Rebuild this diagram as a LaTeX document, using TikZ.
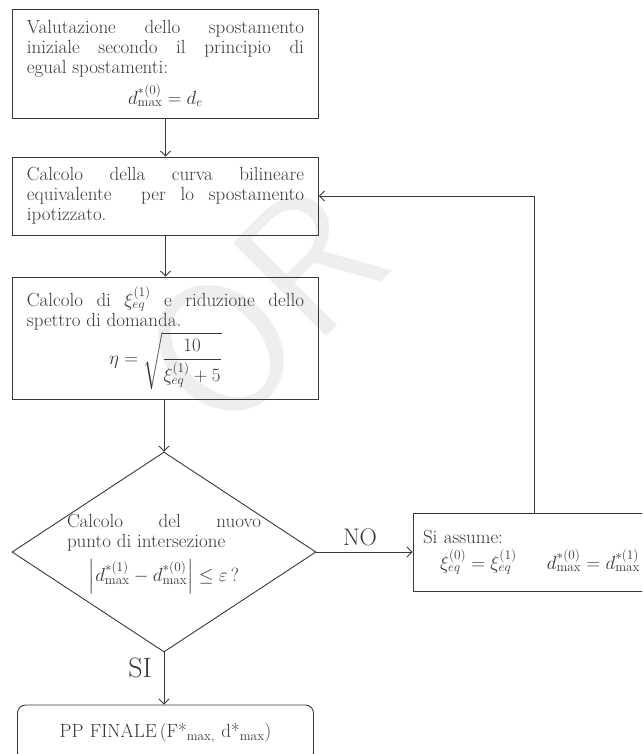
\RequirePackage{fix-cm}
\documentclass[tikz,border=0pt]{standalone}
\usepackage{amsmath,amssymb}
\usepackage{fontspec}
\usetikzlibrary{shapes.geometric,arrows.meta}
\hyphenpenalty=10000
\exhyphenpenalty=10000
\tolerance=9999
\emergencystretch=20pt
\definecolor{ink}{gray}{0.22}

\begin{document}
\begin{tikzpicture}[x=1pt,y=-1pt,
  >={Straight Barb[length=5pt,width=10pt]},
  blk/.style={draw=ink,line width=0.9pt,text=ink,inner xsep=14.5pt,inner ysep=4pt,
    text width=277pt,align=justify,minimum height=#1,font=\fontsize{19}{20}\selectfont},
  blk/.default=78pt,
  dia/.style={draw=ink,line width=0.9pt,shape=diamond,inner sep=0pt,
    minimum width=304pt,minimum height=200pt},
  txt/.style={text=ink,inner sep=0pt,align=justify,font=\fontsize{19}{20}\selectfont},
  lbl/.style={text=ink,inner sep=0pt,font=\fontsize{#1}{#1}\selectfont},
  arr/.style={->,draw=ink,line width=0.9pt}]
\clip (0,0) rectangle (642,754);
\node[rotate=45,text=gray!13,font=\sffamily\fontsize{190}{190}\selectfont] (wm) at (262,308) {OR};

\node[blk=109pt] (val) at (165.5,63.5) {Valutazione dello spostamento iniziale secondo il principio di\linebreak egual spostamenti:\par\vspace{6pt}\centerline{$d^{*(0)}_{\mathrm{max}}=d_e$}};
\node[blk=78pt] (curva) at (165.5,196) {Calcolo della curva bilineare equivalente\ \ per lo spostamento ipotizzato.};
\node[blk=122pt] (xi) at (165.5,338) {Calcolo di $\xi^{(1)}_{eq}$ e riduzione dello\linebreak spettro di domanda.\par\vspace{1pt}\centerline{$\displaystyle\eta=\sqrt{\frac{10}{\xi^{(1)}_{eq}+5}}$}};
\node[dia] (dec) at (164,552) {};
\node[txt,text width=194pt] (dectxt) at ([yshift=-2pt]dec.center) {Calcolo del nuovo\linebreak punto di intersezione\par\vspace{8pt}\centerline{$\left|d^{*(1)}_{\mathrm{max}}-d^{*(0)}_{\mathrm{max}}\right|\le\varepsilon\,?$}};
\node[blk=78pt,text width=217pt,inner xsep=10pt,align=left] (ass) at (531.5,552) {Si assume:\par\vspace{5pt}\hspace*{17pt}$\xi^{(0)}_{eq}=\xi^{(1)}_{eq}$\hfill$d^{*(0)}_{\mathrm{max}}=d^{*(1)}_{\mathrm{max}}$};
\node[blk=56pt,text width=267pt,rounded corners=8pt,align=center] (fin) at (165.5,733) {PP FINALE\,(F*\textsubscript{max,} d*\textsubscript{max})};

\node[lbl=24] (no) at (360,537) {NO};
\node[lbl=28] (si) at (140,668) {SI};
\coordinate (ret) at (534,0);

\draw[arr] (val) -- (curva);
\draw[arr] (curva) -- (xi);
\draw[arr] (xi.south -| dec.north) -- (dec.north);
\draw[arr] (dec.east) -- (ass.west);
\draw[arr] (dec.south) -- (dec.south |- fin.north);
\draw[arr] (ass.north -| ret) |- (curva.east);
\end{tikzpicture}
\end{document}
